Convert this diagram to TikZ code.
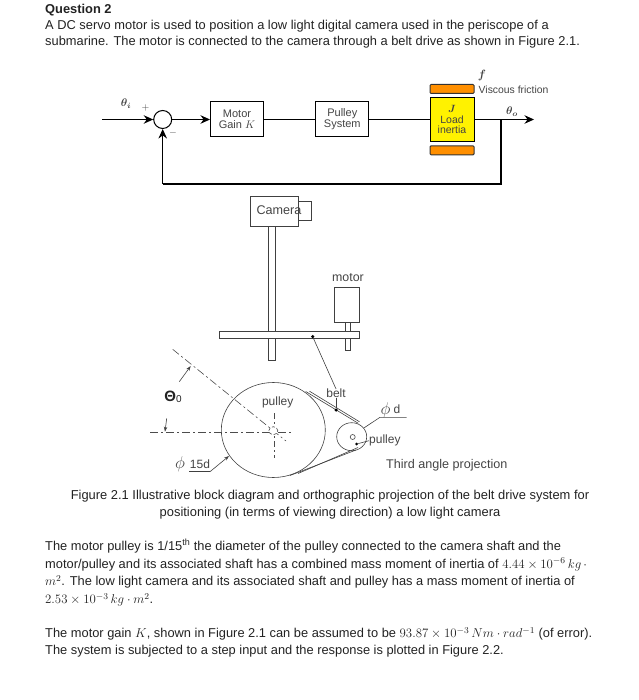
\documentclass[tikz,border=0pt]{standalone}
\usepackage{fix-cm}
\usepackage{amsmath}
\usepackage{fontspec}
\setmainfont{Liberation Sans}
\usetikzlibrary{arrows.meta,shapes.geometric}
\definecolor{ink}{HTML}{222222}
\definecolor{lab}{HTML}{444444}
\newcommand{\fs}[1]{\fontsize{#1}{#1}\selectfont}
\tikzset{
 x=1pt,y=-1pt,
 txt/.style={anchor=base west,inner sep=0pt,text=ink,font=\fs{12.85}},
 captxt/.style={anchor=base,inner sep=0pt,text=ink,font=\fs{12.9}},
 lbl/.style={inner sep=0pt,text=lab,font=\fs{12},align=center},
 smalllbl/.style={inner sep=0pt,text=lab,font=\fs{10.4},align=center,text depth=0pt},
 blockbox/.style={draw=black,line width=1pt,fill=white,inner sep=0pt,align=center,text=lab,font=\fs{11},minimum width=53pt,minimum height=35pt},
 wire/.style={line width=1.1pt,black},
 arr/.style={wire,-{Stealth[length=9.5pt,width=8.5pt]}},
 fric/.style={draw=black!80,line width=1pt,rounded corners=1pt,fill=orange!75!yellow!90!red,minimum width=44pt,minimum height=9pt,inner sep=0pt},
 part/.style={draw=black!75,line width=.6pt,fill=white,inner sep=0pt},
 thinln/.style={draw=black!75,line width=.6pt},
 centre/.style={black!70,line width=.6pt,dash pattern=on 8pt off 3pt on 2pt off 3pt},
 lead/.style={black!75,line width=.6pt,-{Stealth[length=5pt,width=3.5pt]}},
}
\begin{document}
\begin{tikzpicture}
\useasboundingbox (0,0) rectangle (638,700);
% header
\node[txt,font=\fs{12.85}\bfseries] at (45,13.3) {Question 2};
\node[txt] at (45,29.3) {A DC servo motor is used to position a low light digital camera used in the periscope of a};
\node[txt] at (45,46) {submarine. The motor is connected to the camera through a belt drive as shown in Figure 2.1.};
% block diagram
\coordinate (in) at (102,119.5);
\node[draw=black,line width=1pt,circle,minimum size=18pt,inner sep=0pt] (sum) at (162.7,119.5) {};
\node[blockbox] (gain) at (237,119.5) {Motor\\Gain $K$};
\node[blockbox] (pul) at (342.3,119.5) {Pulley\\System};
\node[blockbox,fill=yellow,minimum width=44pt,minimum height=44pt,font=\fs{10.5}] (load) at (452,119.5) {$\boldsymbol{J}$\\Load\\inertia};
\node[fric] (frT) at (452,89) {};
\node[fric] (frB) at (452,150.3) {};
\coordinate (out) at (534,119.5);
\coordinate (br) at (501,119.5);
\coordinate (brd) at (501,184);
\coordinate (fbc) at (sum|-brd);
\draw[arr] (in) -- (sum.west);
\draw[arr] (sum.east) -- (gain.west);
\draw[wire] (gain.east) -- (pul.west);
\draw[wire] (pul.east) -- (load.west);
\draw[arr] (load.east) -- (out);
\draw[wire] (br) -- (brd) -- (fbc);
\draw[arr] (fbc) -- (sum.south);
\node[lbl,font=\fs{11}] (ti) at (126,104) {$\boldsymbol{\theta_i}$};
\node[lbl,font=\fs{10}] (pl) at (145.5,108) {$+$};
\node[lbl,font=\fs{10}] (mi) at (173,133) {$-$};
\node[lbl,font=\fs{12}] (ff) at (482,76) {$\boldsymbol{f}$};
\node[smalllbl,anchor=west] (vf) at (478.5,89.5) {Viscous friction};
\node[lbl,font=\fs{11}] (to) at (512,112) {$\boldsymbol{\theta_o}$};
% camera and motor elevation
\node[part,minimum width=12.3pt,minimum height=19pt] (lens) at (304.8,211.2) {};
\node[part,fill=none,minimum width=48.4pt,minimum height=30pt] (cam) at (274.5,211.7) {};
\node[lbl,font=\fs{12.6}] (caml) at (279,210.5) {Camera};
\node[part,minimum width=7pt,minimum height=133.3pt] (cshaft) at (272.2,293.3) {};
\node[part,minimum width=5.7pt,minimum height=27.6pt] (mshaft) at (347.8,336.5) {};
\node[part,minimum width=140pt,minimum height=7pt] (plate) at (289.3,335.2) {};
\node[part,minimum width=24.6pt,minimum height=35.7pt] (mot) at (347,304.8) {};
\node[lbl,font=\fs{12.4}] (motl) at (348,278) {motor};
\node[circle,fill=black,minimum size=3.5pt,inner sep=0pt] (bdot) at (312.7,336.7) {};
\node[lbl] (beltl) at (336,393.5) {belt};
\draw[thinln] (bdot) -- (beltl.north);
% pulleys
\coordinate (bigc) at (273.3,430);
\coordinate (smc) at (351.7,436.7);
\draw[thinln] (bigc) ellipse [x radius=52,y radius=47.5];
\draw[thinln] (smc) ellipse [x radius=15,y radius=14];
\coordinate (ua) at (305.7,391.5);\coordinate (ub) at (358.3,423.3);
\coordinate (ua2) at (309.5,391.2);\coordinate (ub2) at (359.5,421.8);
\coordinate (la) at (290,475.5);\coordinate (lb) at (356,450);
\coordinate (la2) at (298,473.5);\coordinate (lb2) at (358,447.5);
\draw[thinln] (ua) -- (ub);\draw[thinln] (ua2) -- (ub2);
\draw[thinln] (la) -- (lb);\draw[thinln] (la2) -- (lb2);
\coordinate (cl1) at (150,432);\coordinate (cl2) at (292,432);
\coordinate (cl3) at (172.7,349.3);\coordinate (cl4) at (286,441);
\coordinate (cl5) at (274.3,413);\coordinate (cl6) at (274.3,458);
\draw[centre] (cl1) -- (cl2);
\draw[centre] (cl3) -- (cl4);
\draw[centre,dash pattern=on 6pt off 3pt on 2pt off 3pt] (cl5) -- (cl6);
\node[draw=black!75,densely dashed,line width=.6pt,ellipse,minimum width=9pt,minimum height=8pt,inner sep=0pt,fill=white] (hub) at (273.3,430.7) {};
\node[draw=black!75,line width=.6pt,circle,minimum size=5pt,inner sep=0pt] (hub2) at (352.7,437) {};
\node[lbl] (pbig) at (277.7,402.7) {pulley};
\node[lbl,anchor=west] (psm) at (369,440.7) {pulley};
\node[circle,fill=black,minimum size=3pt,inner sep=0pt] (sdot) at (356.7,444) {};
\draw[thinln] (sdot) -- (psm.west);
\node[circle,fill=black,minimum size=3.5pt,inner sep=0pt] (ldot) at (336,410) {};
\draw[thinln] (ldot) -- (beltl.south);
% angle
\node[inner sep=0pt,text=ink,font=\fs{15}] (th) at (173,396.5) {\textbf{Θ}\raisebox{-1pt}{\fs{10}0}};
\coordinate (tha) at (190.7,366);
\coordinate (thb) at (179.3,381.7);
\draw[lead] (thb) -- (tha);
\coordinate (dna) at (166.7,418.3);
\coordinate (dnb) at (165,431.7);
\draw[lead] (dna) -- (dnb);
% dims
\node[lbl,font=\fs{17}] (phi1) at (180,464.5) {$\phi$};
\node[lbl] (d15) at (200,464) {15d};
\coordinate (u1) at (189,471.7);\coordinate (u2) at (210,471.7);\coordinate (u3) at (229,456);
\draw[thinln] (u1) -- (u2);
\draw[lead] (u2) -- (u3);
\node[lbl,font=\fs{17}] (phi2) at (385.5,410) {$\phi$};
\node[lbl] (dl) at (397,409) {d};
\coordinate (v1) at (406.7,417.3);\coordinate (v2) at (380,417.3);\coordinate (v3) at (364.3,427.7);
\draw[thinln] (v1) -- (v2) -- (v3);
\node[inner sep=0pt,anchor=base west,text=lab,font=\fs{12.6}] (tap) at (386,468.5) {Third angle projection};
% caption
\node[captxt] at (330,499.5) {Figure 2.1 Illustrative block diagram and orthographic projection of the belt drive system for};
\node[captxt] at (330,516) {positioning (in terms of viewing direction) a low light camera};
% body
\node[txt] at (45,550.5) {The motor pulley is 1/15\textsuperscript{th} the diameter of the pulley connected to the camera shaft and the};
\node[txt] at (45,568.2) {motor/pulley and its associated shaft has a combined mass moment of inertia of $4.44\times10^{-6}\,kg\,\cdot$};
\node[txt] at (45,585.7) {$m^2$. The low light camera and its associated shaft and pulley has a mass moment of inertia of};
\node[txt] at (45,603.7) {$2.53\times10^{-3}\,kg\cdot m^2$.};
\node[txt] at (45,637.7) {The motor gain $K$, shown in Figure 2.1 can be assumed to be $93.87\times10^{-3}\,Nm\cdot rad^{-1}$ (of error).};
\node[txt] at (45,654.8) {The system is subjected to a step input and the response is plotted in Figure 2.2.};
\end{tikzpicture}
\end{document}
